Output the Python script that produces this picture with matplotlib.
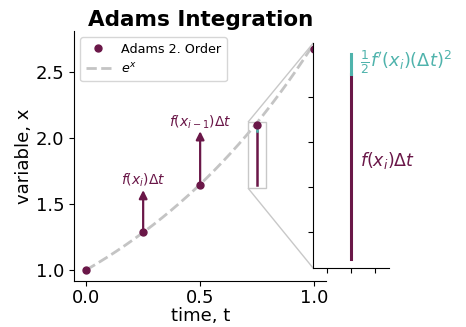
import numpy as np
import matplotlib
matplotlib.use("Agg")
import matplotlib.pyplot as plt
from mpl_toolkits.axes_grid1.inset_locator import mark_inset

# Adams 2. Ordnung fuer dx/dt = x, dt = 0.25
t = [0.0, 0.25, 0.5, 0.75, 1.0]
x = [1.0, 1.284, 1.641, 2.095, 2.676]

# Pfeile f(x)*dt
arrow_t = [0.25, 0.5]
arrow_lo = [1.284, 1.641]
arrow_hi = [1.605, 2.051]
arrow_txt = [r"$f(x_i)\Delta t$", r"$f(x_{i-1})\Delta t$"]

# Zerlegung des Schritts bei t=0.75
step_t = 0.75
step_lo = 1.641
step_mid = 2.051
step_hi = 2.095

purple = "#6a1748"
teal = "#4fb3ac"

te = np.linspace(0, 1, 200)

fig = plt.figure(figsize=(4.66, 3.27), dpi=100)
ax = fig.add_axes([0.159, 0.141, 0.541, 0.764])

ax.plot(t, x, "o", color=purple, markersize=5, label="Adams 2. Order", zorder=3)
ax.plot(te, np.exp(te), "--", color="#c4c4c4", linewidth=2, label="$e^x$", zorder=1)

for ti, lo, hi, s in zip(arrow_t, arrow_lo, arrow_hi, arrow_txt):
    ax.annotate("", xy=(ti, hi), xytext=(ti, lo),
                arrowprops=dict(arrowstyle="-|>", color=purple, lw=1.6,
                                shrinkA=0, shrinkB=0, mutation_scale=12))
    ax.text(ti, hi + 0.005, s, color=purple, fontsize=10, ha="center", va="bottom")

ax.plot([step_t, step_t], [step_lo, step_mid], color=purple, lw=1.8, zorder=2)
ax.plot([step_t, step_t], [step_mid, step_hi], color=teal, lw=1.8, zorder=2)

ax.set_xlim(-0.053, 1.053)
ax.set_ylim(0.917, 2.81)
ax.set_xticks([0.0, 0.5, 1.0])
ax.set_yticks([1.0, 1.5, 2.0, 2.5])
ax.tick_params(labelsize=13)
ax.tick_params(axis="x", pad=2.5)
ax.set_xlabel("time, t", fontsize=13, labelpad=0)
ax.set_ylabel("variable, x", fontsize=13, labelpad=2)
ax.spines["top"].set_visible(False)
ax.spines["right"].set_visible(False)
ax.set_title("Adams Integration", fontsize=15.5, fontweight="bold", pad=4)
ax.legend(loc="upper left", fontsize=9.2)

# Vergroesserung
axins = fig.add_axes([0.672, 0.180, 0.163, 0.688])
axins.plot([step_t, step_t], [step_lo, step_mid], color=purple, lw=2.2)
axins.plot([step_t, step_t], [step_mid, step_hi], color=teal, lw=2.2)
axins.set_xlim(0.71, 0.79)
axins.set_ylim(1.62, 2.12)
axins.set_xticks([0.725, 0.75, 0.775])
axins.set_yticks([1.7, 1.8, 1.9, 2.0])
axins.set_xticklabels([])
axins.set_yticklabels([])
axins.spines["top"].set_visible(False)
axins.spines["right"].set_visible(False)
axins.text(0.759, 2.077, r"$\frac{1}{2}f'(x_i)(\Delta t)^2$", color=teal,
           fontsize=12.8, ha="left", va="center")
axins.text(0.759, 1.86, r"$f(x_i)\Delta t$", color=purple, fontsize=12.5,
           ha="left", va="center")
mark_inset(ax, axins, loc1=2, loc2=3, fc="none", ec="#c8c8c8", lw=1)

fig.savefig("out.png", dpi=100)
